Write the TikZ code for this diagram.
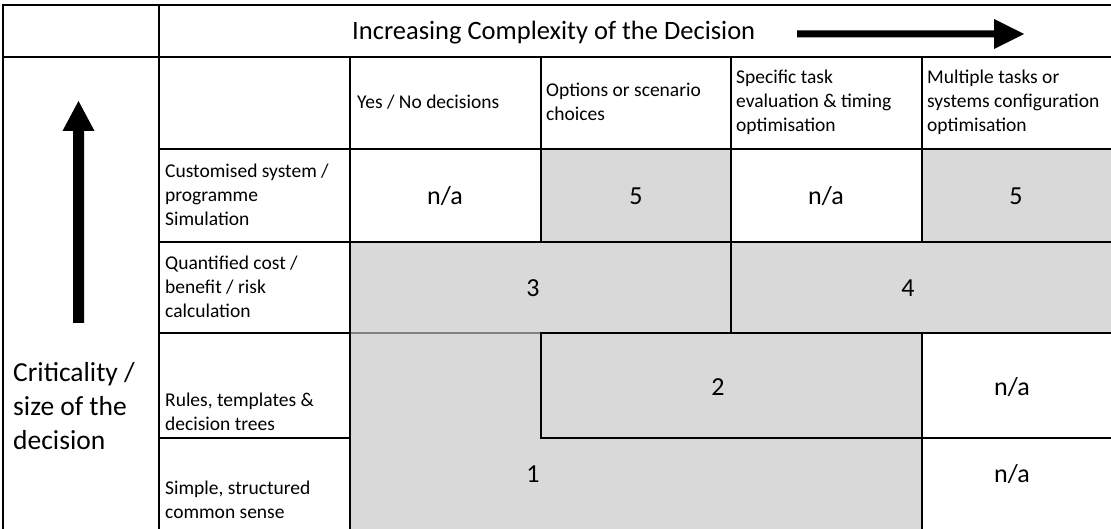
\documentclass[tikz,border=0pt]{standalone}
\usepackage{fontspec}
\setmainfont{Carlito}
\definecolor{cellgray}{HTML}{D9D9D9}
\begin{document}
\begin{tikzpicture}[x=1pt,y=-1pt,
  grid/.style={line width=2pt, black, line cap=rect},
  softgrid/.style={line width=1.4pt, black!50},
  lab/.style={anchor=west, align=left, inner sep=0pt, font=\fontsize{19.5}{24}\selectfont},
  val/.style={inner sep=0pt, font=\fontsize{26}{31}\selectfont},
  big/.style={anchor=west, align=left, inner sep=0pt, font=\fontsize{27.5}{34}\selectfont}
]
\useasboundingbox (0,0) rectangle (1111,529);

% shaded cells
\fill[cellgray] (541,149) rectangle (731,242);
\fill[cellgray] (922,149) rectangle (1111,242);
\fill[cellgray] (350,242) rectangle (1111,333);
\fill[cellgray] (350,333) rectangle (922,529);

% table rules
\draw[grid] (3,5.5) -- (1111,5.5);
\draw[grid] (3,5.5) -- (3,529);
\draw[grid] (3,57) -- (1111,57);
\draw[grid] (159,5.5) -- (159,529);
\draw[grid] (159,149) -- (1111,149);
\draw[grid] (159,242) -- (1111,242);
\draw[grid] (159,333) -- (350,333);
\draw[softgrid] (350,333) -- (541,333);
\draw[grid] (541,333) -- (1111,333);
\draw[grid] (159,438) -- (350,438);
\draw[grid] (541,438) -- (1111,438);
\draw[grid] (350,57) -- (350,529);
\draw[grid] (541,57) -- (541,242);
\draw[grid] (541,333) -- (541,438);
\draw[grid] (731,57) -- (731,333);
\draw[grid] (922,57) -- (922,242);
\draw[grid] (922,333) -- (922,529);

% block arrows
\fill (797,30.5) -- (994,30.5) -- (994,19) -- (1024,34) -- (994,49) -- (994,37.5) -- (797,37.5) -- cycle;
\fill (73,323) -- (73,131) -- (62.5,131) -- (78.5,101) -- (94.5,131) -- (84,131) -- (84,323) -- cycle;

% headings
\node[anchor=west, inner sep=0pt, font=\fontsize{26.5}{31}\selectfont] (ttl) at (352,33) {Increasing Complexity of the Decision};
\node[big] (crit) at (13,406) {Criticality /\\size of the\\decision};

\node[lab] (h1) at (357,102) {Yes / No decisions};
\node[lab] (h2) at (546,102) {Options or scenario\\choices};
\node[lab] (h3) at (736,102) {Specific task\\evaluation \& timing\\optimisation};
\node[lab] (h4) at (927,102) {Multiple tasks or\\systems configuration\\optimisation};

\node[lab] (r1) at (165,195) {Customised system /\\programme\\Simulation};
\node[lab] (r2) at (165,287) {Quantified cost /\\benefit / risk\\calculation};
\node[lab] (r3) at (165,412) {Rules, templates \&\\decision trees};
\node[lab] (r4) at (165,500) {Simple, structured\\common sense};

% cell values
\node[val] (c11) at (445,196) {n/a};
\node[val] (c12) at (636,196) {5};
\node[val] (c13) at (826,196) {n/a};
\node[val] (c14) at (1016,196) {5};
\node[val] (c21) at (533,288) {3};
\node[val] (c22) at (908,288) {4};
\node[val] (c31) at (718,387) {2};
\node[val] (c32) at (1012,387) {n/a};
\node[val] (c41) at (533,474) {1};
\node[val] (c42) at (1012,474) {n/a};
\end{tikzpicture}
\end{document}
